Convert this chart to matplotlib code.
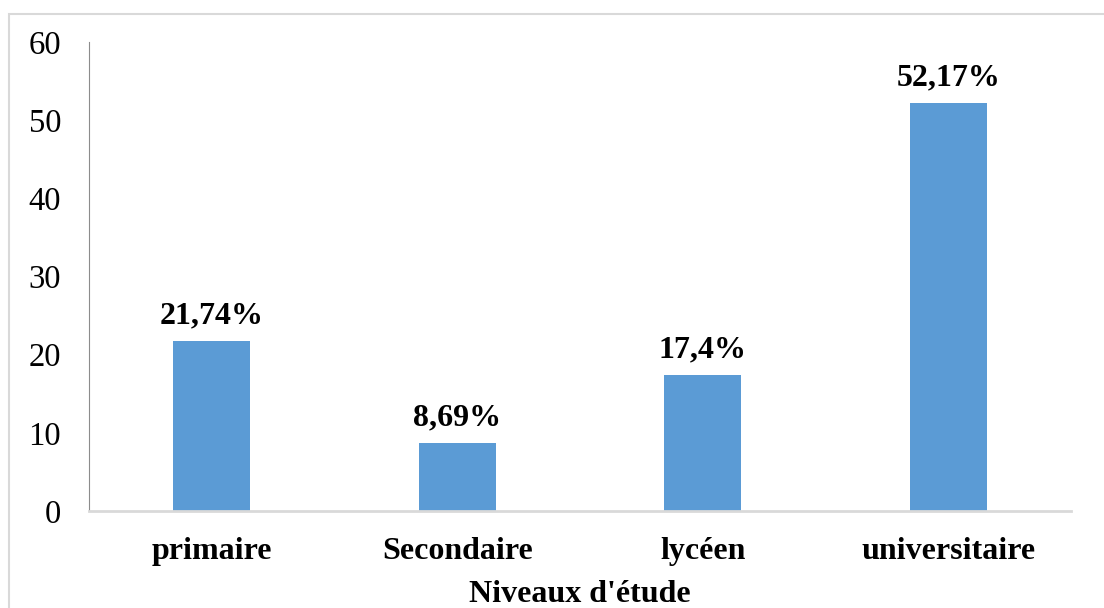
import matplotlib
matplotlib.use('Agg')
import matplotlib.pyplot as plt
from matplotlib.patches import Rectangle

# Niveaux d'étude (%)
categories = ['primaire', 'Secondaire', 'lycéen', 'universitaire']
values = [21.74, 8.69, 17.4, 52.17]
value_labels = ['21,74%', '8,69%', '17,4%', '52,17%']
yticks = [0, 10, 20, 30, 40, 50, 60]

plt.rcParams['font.family'] = ['Liberation Serif', 'DejaVu Serif']

fig = plt.figure(figsize=(11.04, 6.08), dpi=100)
fig.patch.set_facecolor('white')

# cadre gris clair autour du graphique
fig.patches.append(Rectangle((9 / 1104, -0.05), 1.1, 1 - 14 / 608 + 0.05,
                             transform=fig.transFigure, fill=False,
                             edgecolor='#d9d9d9', linewidth=1.5))

ax = fig.add_axes([89 / 1104, 1 - 511 / 608, (1071 - 89) / 1104, (511 - 42) / 608])

x = list(range(len(categories)))
bars = ax.bar(x, values, width=0.314, color='#5b9bd5')

for xi, v, lab in zip(x, values, value_labels):
    ax.annotate(lab, (xi, v), xytext=(0, 13), textcoords='offset points',
                ha='center', va='baseline', fontsize=23, fontweight='bold')

ax.set_xlim(-0.5, len(categories) - 0.5)
ax.set_ylim(0, 60)
ax.set_yticks(yticks)
ax.tick_params(axis='y', length=0, pad=20, labelsize=23.5)
ax.set_xticks(x)
ax.set_xticklabels(categories, fontsize=23, fontweight='bold')
ax.tick_params(axis='x', length=0, pad=19)
ax.set_xlabel("Niveaux d'étude", fontsize=23, fontweight='bold', labelpad=10)

for s in ['top', 'right']:
    ax.spines[s].set_visible(False)
ax.spines['left'].set_color('#8c8c8c')
ax.spines['left'].set_linewidth(0.8)
ax.spines['bottom'].set_color('#d9d9d9')
ax.spines['bottom'].set_linewidth(2)

fig.savefig('out.png', dpi=100, facecolor='white')
